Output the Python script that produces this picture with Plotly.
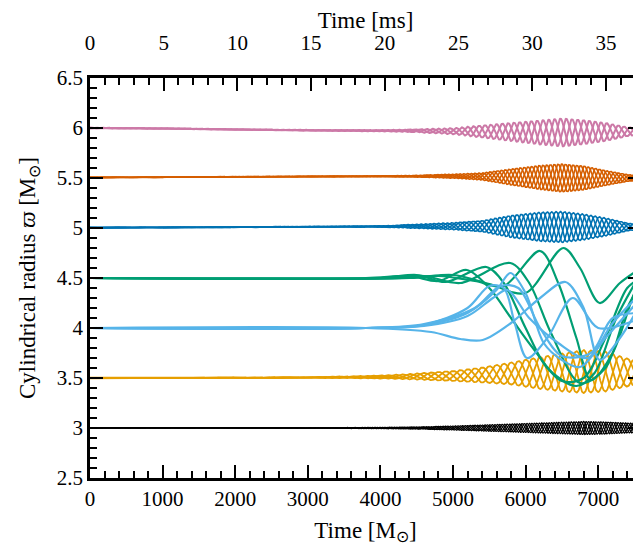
import numpy as np
import plotly.graph_objects as go

M_TO_MS = 4.925e-3
X_MAX = 7590

# ---- band families: knot times [M], centre [M_sun], half-width [M_sun] ----
band_t = [0, 1000, 2000, 3000, 4000, 4500, 5000, 5400, 5800, 6200, 6500, 6800, 7100, 7400, 7600]

pink_c = [6.0, 5.995, 5.985, 5.977, 5.973, 5.972, 5.968, 5.965, 5.96, 5.955, 5.955, 5.958, 5.96, 5.963, 5.965]
pink_a = [0.004, 0.004, 0.004, 0.005, 0.008, 0.015, 0.03, 0.06, 0.09, 0.12, 0.14, 0.12, 0.09, 0.045, 0.03]

verm_c = [5.505, 5.508, 5.512, 5.515, 5.517, 5.518, 5.518, 5.515, 5.51, 5.505, 5.5, 5.5, 5.5, 5.5, 5.5]
verm_a = [0.003, 0.003, 0.004, 0.004, 0.006, 0.01, 0.02, 0.035, 0.08, 0.12, 0.14, 0.12, 0.075, 0.035, 0.02]

blue_c = [5.003, 5.006, 5.009, 5.012, 5.015, 5.017, 5.018, 5.018, 5.015, 5.012, 5.01, 5.01, 5.01, 5.01, 5.01]
blue_a = [0.003, 0.003, 0.004, 0.005, 0.008, 0.02, 0.035, 0.055, 0.11, 0.145, 0.155, 0.13, 0.09, 0.04, 0.02]

orng_c = [3.5, 3.5, 3.502, 3.505, 3.51, 3.515, 3.52, 3.53, 3.545, 3.55, 3.555, 3.565, 3.565, 3.555, 3.55]
orng_a = [0.003, 0.003, 0.004, 0.006, 0.015, 0.03, 0.05, 0.075, 0.11, 0.16, 0.19, 0.215, 0.2, 0.14, 0.12]

blk_c = [3.0, 3.0, 3.0, 3.0, 3.0, 3.0, 3.0, 3.0, 3.0, 3.0, 3.0, 3.0, 3.0, 3.0, 3.0]
blk_a = [0.003, 0.003, 0.003, 0.004, 0.008, 0.012, 0.02, 0.03, 0.04, 0.05, 0.058, 0.065, 0.06, 0.05, 0.045]

# (colour, centre, half-width, oscillation period [M], number of tracers, line width)
bands = [
    ("#CC79A7", pink_c, pink_a, 240, 3, 2.0),
    ("#D55E00", verm_c, verm_a, 260, 5, 1.6),
    ("#0072B2", blue_c, blue_a, 300, 5, 1.6),
    ("#E69F00", orng_c, orng_a, 400, 4, 1.8),
    ("#000000", blk_c, blk_a, 170, 5, 1.2),
]

# ---- unstable families: knots (time [M], radius) per tracer ----
green_t = [
    [0, 3800, 4400, 4800, 5190, 5500, 5800, 6100, 6500, 6800, 7100, 7400, 7590],
    [0, 4000, 4500, 4900, 5460, 5700, 6000, 6300, 6700, 6950, 7250, 7590],
    [0, 4200, 4600, 5100, 5790, 6050, 6350, 6750, 7100, 7400, 7590],
    [0, 4300, 4800, 5300, 5700, 6200, 6450, 6700, 6900, 7200, 7500, 7590],
    [0, 4400, 5000, 5500, 6000, 6520, 6750, 7020, 7300, 7590],
]
green_r = [
    [4.5, 4.5, 4.52, 4.47, 4.58, 4.4, 4.1, 3.8, 3.47, 3.5, 3.9, 4.4, 4.5],
    [4.5, 4.5, 4.53, 4.46, 4.61, 4.45, 4.0, 3.6, 3.42, 3.55, 4.1, 4.55],
    [4.5, 4.5, 4.52, 4.45, 4.65, 4.45, 3.95, 3.45, 3.6, 4.2, 4.45],
    [4.5, 4.5, 4.52, 4.47, 4.42, 4.77, 4.45, 3.9, 3.48, 3.75, 4.35, 4.45],
    [4.5, 4.5, 4.53, 4.44, 4.35, 4.8, 4.6, 4.25, 4.45, 4.6],
]

sky_t = [
    [0, 3800, 4700, 5100, 5410, 5800, 6200, 6550, 6800, 7020, 7300, 7590],
    [0, 3800, 4600, 5200, 5600, 5790, 6000, 6250, 6500, 6750, 7100, 7590],
    [0, 3800, 4600, 5200, 5500, 5700, 5850, 6020, 6300, 6650, 7000, 7590],
    [0, 3800, 4600, 5300, 5650, 5900, 6200, 6500, 6900, 7200, 7590],
    [0, 3800, 4600, 5200, 5550, 5750, 6050, 6450, 6850, 7200, 7590],
]
sky_r = [
    [4.0, 4.0, 3.96, 3.89, 3.88, 4.05, 4.3, 4.46, 4.2, 3.68, 3.9, 4.25],
    [4.0, 4.0, 4.03, 4.15, 4.38, 4.55, 4.35, 3.85, 3.68, 3.61, 3.9, 4.3],
    [4.0, 4.0, 4.03, 4.2, 4.42, 4.4, 4.05, 3.7, 3.9, 4.3, 4.0, 4.1],
    [4.0, 4.0, 4.04, 4.2, 4.42, 4.4, 4.0, 3.72, 3.75, 4.1, 4.15],
    [4.0, 4.0, 4.02, 4.12, 4.3, 4.38, 4.1, 3.85, 3.7, 4.05, 4.35],
]

fig = go.Figure()

t = np.arange(0, X_MAX + 5, 4.0)
for colour, cen, amp, period, n, lw in bands:
    c = np.interp(t, band_t, cen)
    a = np.interp(t, band_t, amp)
    for j in range(n):
        r = c + a * np.cos(2 * np.pi * t / period + 2 * np.pi * j / n)
        fig.add_trace(go.Scatter(x=t, y=r, mode="lines", line=dict(color=colour, width=lw),
                                 showlegend=False, hoverinfo="skip"))

for colour, tt, rr in [("#009E73", green_t, green_r), ("#56B4E9", sky_t, sky_r)]:
    for xs, ys in zip(tt, rr):
        fig.add_trace(go.Scatter(x=xs, y=ys, mode="lines",
                                 line=dict(color=colour, width=2.2, shape="spline", smoothing=0.9),
                                 showlegend=False, hoverinfo="skip"))

# invisible trace for top axis
fig.add_trace(go.Scatter(x=[0, X_MAX * M_TO_MS], y=[None, None], xaxis="x2", yaxis="y",
                         mode="lines", showlegend=False, hoverinfo="skip"))

FONT = "Liberation Serif, Times New Roman, serif"
tickfont = dict(family=FONT, size=21, color="black")
titlefont = dict(family=FONT, size=23, color="black")
common = dict(ticks="inside", ticklen=13, tickwidth=1.5, tickcolor="black",
              showline=True, linecolor="black", linewidth=2.5, showgrid=False,
              zeroline=False, tickfont=tickfont, automargin=False)

fig.update_layout(
    width=641, height=550,
    margin=dict(l=82, r=8, t=70, b=80),
    plot_bgcolor="white", paper_bgcolor="white",
    font=dict(family=FONT, size=21, color="black"),
    xaxis=dict(range=[0, X_MAX], tickvals=list(range(0, 8000, 1000)),
               minor=dict(dtick=200, ticks="inside", ticklen=7, tickwidth=1.5, tickcolor="black"),
               title=dict(text="Time [M<sub>⊙</sub>]", font=titlefont, standoff=12),
               **common),
    xaxis2=dict(range=[0, X_MAX * M_TO_MS], overlaying="x", side="top", anchor="y",
                tickvals=list(range(0, 40, 5)), ticklabelstandoff=17,
                minor=dict(dtick=1, ticks="inside", ticklen=7, tickwidth=1.5, tickcolor="black"),
                title=dict(text="Time [ms]", font=titlefont, standoff=0),
                **common),
    yaxis=dict(range=[2.5, 6.5], tickvals=[2.5, 3, 3.5, 4, 4.5, 5, 5.5, 6, 6.5],
               ticktext=["2.5", "3", "3.5", "4", "4.5", "5", "5.5", "6", "6.5"], mirror="ticks",
               minor=dict(dtick=0.1, ticks="inside", ticklen=7, tickwidth=1.5, tickcolor="black"),
               title=dict(text="Cylindrical radius <i>ϖ</i> [M<sub>⊙</sub>]",
                          font=titlefont, standoff=15),
               **common),
)

fig.write_html("out.html")
